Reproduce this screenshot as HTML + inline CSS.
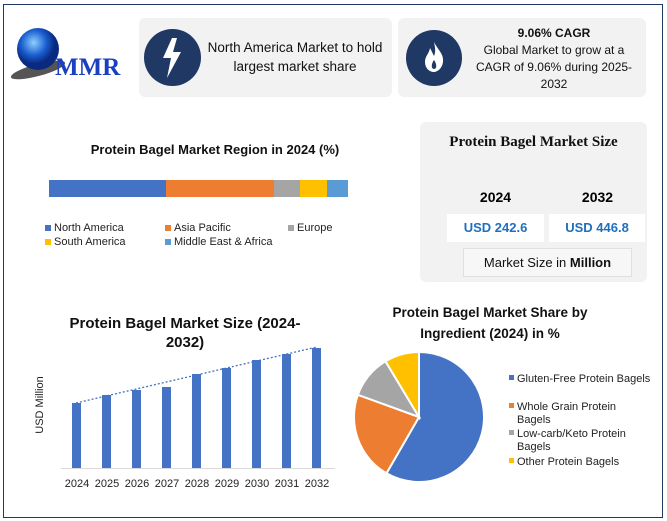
<!DOCTYPE html>
<html><head><meta charset="utf-8"><style>
body{margin:0;width:667px;height:521px;background:#fff;position:relative;overflow:hidden;font-family:"Liberation Sans",sans-serif}
.a{position:absolute}
.box{background:#f2f2f2;border-radius:6px}
.c{text-align:center}
</style></head><body>
<div class="a" style="left:3px;top:4px;width:658px;height:512px;border:1.5px solid #1f3864"></div>
<svg class="a" style="left:8px;top:25px" width="130" height="60">
<defs><radialGradient id="g" cx="40%" cy="35%"><stop offset="0" stop-color="#8fd0ff"/><stop offset="0.6" stop-color="#1a5fd0"/><stop offset="1" stop-color="#0a2a80"/></radialGradient></defs>
<ellipse cx="30" cy="45" rx="28" ry="6" fill="#555" transform="rotate(-15 30 45)"/>
<circle cx="30" cy="24" r="21" fill="url(#g)"/>
<text x="47" y="50" font-family="Liberation Serif" font-weight="bold" font-size="25" fill="#1a3fc0">MMR</text>
</svg>
<div class="a box" style="left:139px;top:18px;width:253px;height:79px"></div>
<div class="a" style="left:144px;top:29px;width:57px;height:57px;border-radius:50%;background:#1f3864"></div>
<svg class="a" style="left:160px;top:38px" width="24" height="40"><path d="M12 0 L3 20 L11 20 L7 40 L21 14 L13 14 L17 0Z" fill="#fff"/></svg>
<div class="a c" style="left:200px;top:38px;width:190px;font-size:13.5px;line-height:19px;color:#111">North America Market to hold largest market share</div>
<div class="a box" style="left:398px;top:18px;width:248px;height:79px"></div>
<div class="a" style="left:406px;top:30px;width:56px;height:56px;border-radius:50%;background:#1f3864"></div>
<svg class="a" style="left:424px;top:42px" width="20" height="30"><path d="M10 0 C14 8 20 12 19 20 C18 27 13 30 10 30 C5 30 1 26 1 20 C1 14 5 12 6 6 C8 10 9 12 10 14 C12 10 11 5 10 0Z" fill="#fff"/><path d="M10 18 C13 22 13 27 10 27 C7 27 7 22 10 18Z" fill="#1f3864"/></svg>
<div class="a c" style="left:465px;top:25px;width:178px;font-size:12px;line-height:17px;color:#111"><b>9.06% CAGR</b><br>Global Market to grow at a CAGR of 9.06% during 2025-2032</div>
<div class="a c" style="left:40px;top:142px;width:350px;font-size:13px;font-weight:bold;color:#111">Protein Bagel Market Region in 2024 (%)</div>
<div class="a" style="left:49px;top:180px;width:117px;height:17px;background:#4472c4"></div>
<div class="a" style="left:166px;top:180px;width:108px;height:17px;background:#ed7d31"></div>
<div class="a" style="left:274px;top:180px;width:26px;height:17px;background:#a5a5a5"></div>
<div class="a" style="left:300px;top:180px;width:27px;height:17px;background:#ffc000"></div>
<div class="a" style="left:327px;top:180px;width:21px;height:17px;background:#5b9bd5"></div>
<div class="a" style="left:45px;top:221px;font-size:11px;line-height:14px;color:#222">
<span class="a" style="left:0;top:0;white-space:nowrap"><span style="display:inline-block;width:6px;height:6px;background:#4472c4;margin-right:3px"></span>North America</span>
<span class="a" style="left:120px;top:0;white-space:nowrap"><span style="display:inline-block;width:6px;height:6px;background:#ed7d31;margin-right:3px"></span>Asia Pacific</span>
<span class="a" style="left:243px;top:0;white-space:nowrap"><span style="display:inline-block;width:6px;height:6px;background:#a5a5a5;margin-right:3px"></span>Europe</span>
<span class="a" style="left:0;top:14px;white-space:nowrap"><span style="display:inline-block;width:6px;height:6px;background:#ffc000;margin-right:3px"></span>South America</span>
<span class="a" style="left:120px;top:14px;white-space:nowrap"><span style="display:inline-block;width:6px;height:6px;background:#5b9bd5;margin-right:3px"></span>Middle East &amp; Africa</span>
</div>
<div class="a box" style="left:420px;top:122px;width:227px;height:160px"></div>
<div class="a c" style="left:420px;top:134px;width:227px;font-family:'Liberation Serif';font-weight:bold;font-size:15px;color:#111">Protein Bagel Market Size</div>
<div class="a c" style="left:447px;top:189px;width:97px;font-weight:bold;font-size:14px">2024</div>
<div class="a c" style="left:549px;top:189px;width:97px;font-weight:bold;font-size:14px">2032</div>
<div class="a c" style="left:447px;top:214px;width:97px;height:28px;line-height:28px;background:#fff;color:#1f6fbf;font-weight:bold;font-size:13px">USD 242.6</div>
<div class="a c" style="left:549px;top:214px;width:96px;height:28px;line-height:28px;background:#fff;color:#1f6fbf;font-weight:bold;font-size:13px">USD 446.8</div>
<div class="a c" style="left:463px;top:248px;width:167px;height:27px;line-height:27px;border:1px solid #e0e0e0;background:#f7f7f7;font-size:13px;color:#111">Market Size in <b>Million</b></div>
<div class="a c" style="left:65px;top:314px;width:240px;font-size:15px;font-weight:bold;line-height:19px;color:#111">Protein Bagel Market Size (2024-2032)</div>
<svg class="a" style="left:0;top:300px" width="340" height="200">
<text x="43" y="105" transform="rotate(-90 43 105)" font-size="11" text-anchor="middle" fill="#222">USD Million</text>
<line x1="61" y1="168.5" x2="335" y2="168.5" stroke="#d9d9d9"/>
<g fill="#4472c4">
<rect x="72" y="103" width="9" height="65"/><rect x="102" y="95" width="9" height="73"/><rect x="132" y="90" width="9" height="78"/><rect x="162" y="87" width="9" height="81"/><rect x="192" y="74" width="9" height="94"/><rect x="222" y="68" width="9" height="100"/><rect x="252" y="60" width="9" height="108"/><rect x="282" y="54" width="9" height="114"/><rect x="312" y="48" width="9" height="120"/>
</g>
<line x1="76" y1="103" x2="317" y2="47" stroke="#4472c4" stroke-width="1.3" stroke-dasharray="2,2"/>
<g font-size="11" text-anchor="middle" fill="#222">
<text x="77" y="187">2024</text><text x="107" y="187">2025</text><text x="137" y="187">2026</text><text x="167" y="187">2027</text><text x="197" y="187">2028</text><text x="227" y="187">2029</text><text x="257" y="187">2030</text><text x="287" y="187">2031</text><text x="317" y="187">2032</text>
</g>
</svg>
<div class="a c" style="left:370px;top:302px;width:240px;font-size:13.5px;font-weight:bold;line-height:21px;color:#111">Protein Bagel Market Share by Ingredient (2024) in %</div>
<svg class="a" style="left:340px;top:340px" width="327" height="160">
<g stroke="#fff" stroke-width="2">
<path d="M79 77 L79 12 A65 65 0 1 1 46.5 133.3Z" fill="#4472c4"/>
<path d="M79 77 L46.5 133.3 A65 65 0 0 1 17.9 54.8Z" fill="#ed7d31"/>
<path d="M79 77 L17.9 54.8 A65 65 0 0 1 45.5 21.3Z" fill="#a5a5a5"/>
<path d="M79 77 L45.5 21.3 A65 65 0 0 1 79 12Z" fill="#ffc000"/>
</g>
<g font-size="11" fill="#222">
<rect x="169" y="35" width="5" height="5" fill="#4472c4"/><text x="177" y="42">Gluten-Free Protein Bagels</text>
<rect x="169" y="63" width="5" height="5" fill="#ed7d31"/><text x="177" y="70">Whole Grain Protein</text><text x="177" y="83">Bagels</text>
<rect x="169" y="90" width="5" height="5" fill="#a5a5a5"/><text x="177" y="97">Low-carb/Keto Protein</text><text x="177" y="110">Bagels</text>
<rect x="169" y="118" width="5" height="5" fill="#ffc000"/><text x="177" y="125">Other Protein Bagels</text>
</g>
</svg>
</body></html>
